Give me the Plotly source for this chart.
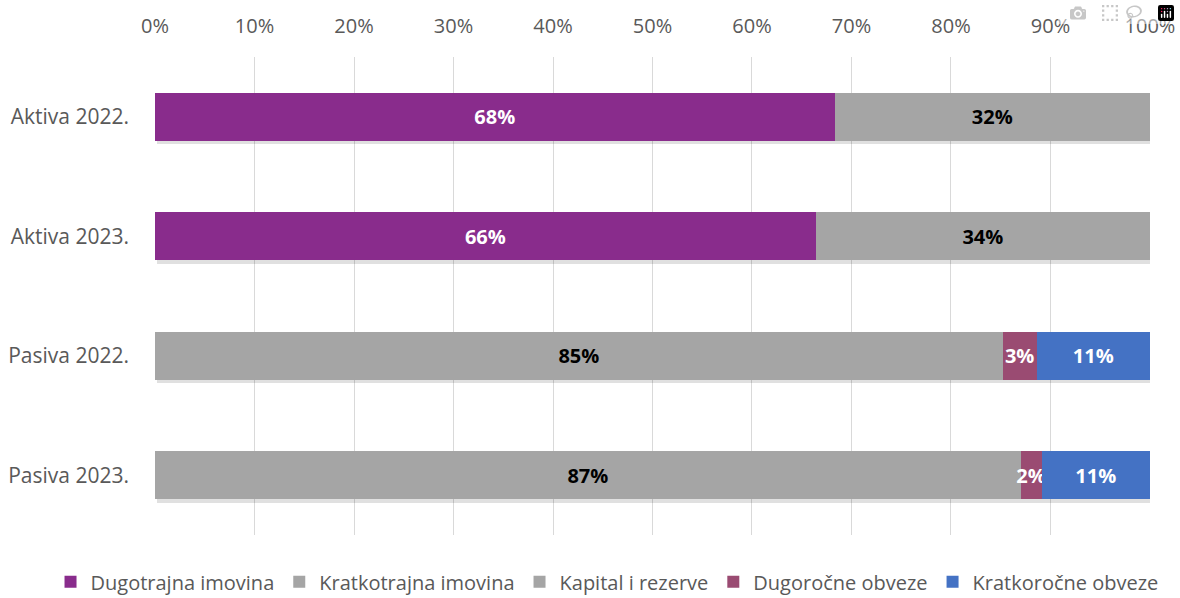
import plotly.graph_objects as go

categories = ["Aktiva 2022.", "Aktiva 2023.", "Pasiva 2022.", "Pasiva 2023."]
series_names = ["Dugotrajna imovina", "Kratkotrajna imovina", "Kapital i rezerve",
                "Dugoročne obveze", "Kratkoročne obveze"]
dugotrajna = [68.3, 66.4, None, None]
kratkotrajna = [31.7, 33.6, None, None]
kapital = [None, None, 85.2, 87.0]
dugorocne = [None, None, 3.4, 2.1]
kratkorocne = [None, None, 11.4, 10.9]
tick_vals = [0, 10, 20, 30, 40, 50, 60, 70, 80, 90, 100]
tick_text = [f"{v}%" for v in tick_vals]

colors = ["#892C8C", "#A5A5A5", "#A5A5A5", "#9A4B72", "#4472C4"]
text_colors = ["white", "black", "black", "white", "white"]
values = [dugotrajna, kratkotrajna, kapital, dugorocne, kratkorocne]

totals = [sum(v[i] for v in values if v[i] is not None) for i in range(len(categories))]

FONT = "Open Sans"
fig = go.Figure()

# soft drop shadow under each stacked bar (drawn on the base y axis, below the bars)
fig.add_trace(go.Bar(
    y=categories, x=totals, base=0.25, orientation="h", yaxis="y",
    width=0.4, offset=-0.2 + 0.03,
    marker=dict(color="rgba(0,0,0,0.12)", line=dict(width=0)),
    showlegend=False, hoverinfo="skip",
))

for name, vals, col, tcol in zip(series_names, values, colors, text_colors):
    fig.add_trace(go.Bar(
        y=categories, x=vals, name=name, orientation="h", yaxis="y2",
        marker=dict(color=col, line=dict(width=0)),
        text=[f"{round(v)}%" if v is not None else "" for v in vals],
        textposition="inside", insidetextanchor="middle", textangle=0,
        textfont=dict(family=FONT, size=20, color=tcol, weight="bold"),
        constraintext="none", cliponaxis=False,
    ))

fig.update_layout(
    barmode="stack", bargap=0.6,
    width=1180, height=614,
    margin=dict(l=155, r=30, t=57, b=79),
    paper_bgcolor="white", plot_bgcolor="white",
    font=dict(family=FONT, size=21, color="#595959"),
    uniformtext=dict(minsize=20, mode="show"),
    showlegend=True,
    legend=dict(orientation="h", x=-0.105, xanchor="left", y=-0.057, yanchor="top",
                font=dict(family=FONT, size=20, color="#595959"),
                itemwidth=30, traceorder="normal", tracegroupgap=0),
    xaxis=dict(side="top", range=[0, 100.001], tickvals=tick_vals, ticktext=tick_text,
               tickfont=dict(family=FONT, size=20, color="#595959"),
               showgrid=True, gridcolor="#D9D9D9", gridwidth=1.3, zeroline=False,
               showline=False, ticks="", ticklabelstandoff=19, fixedrange=True,
               automargin=False),
    yaxis=dict(autorange="reversed", showgrid=False, zeroline=False, showline=False,
               ticks="", ticklabelstandoff=25, fixedrange=True, automargin=False,
               categoryorder="array", categoryarray=categories),
    yaxis2=dict(overlaying="y", anchor="x", autorange="reversed", showgrid=False,
                zeroline=False, showline=False, showticklabels=False, ticks="",
                fixedrange=True, automargin=False,
                categoryorder="array", categoryarray=categories),
)

# remove the default page margin and scrollbars so the figure sits at the window origin
fig.write_html(
    "out.html",
    post_script="document.body.style.margin='0';document.body.style.overflow='hidden';",
)
